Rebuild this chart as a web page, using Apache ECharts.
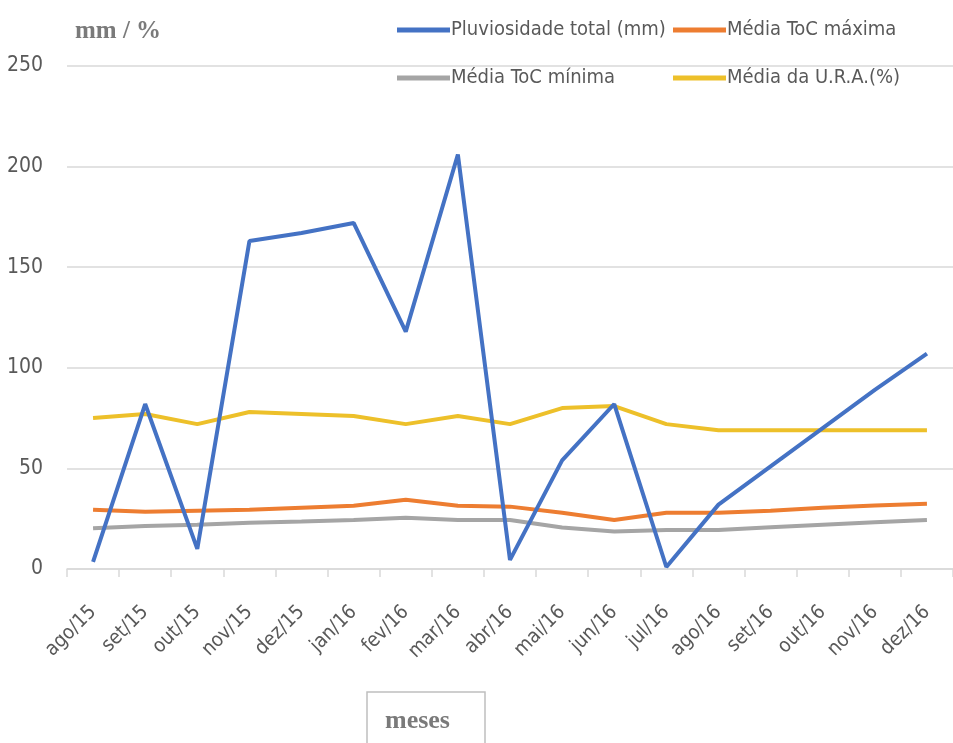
<!DOCTYPE html>
<html>
<head>
<meta charset="utf-8">
<script src="https://cdn.jsdelivr.net/npm/echarts@6/dist/echarts.min.js"></script>
<style>
  html, body { margin: 0; padding: 0; background: #ffffff; }
  #chart { width: 953px; height: 743px; }
</style>
</head>
<body>
<div id="chart"></div>
<script>
// Meses (agosto 2015 a dezembro 2016)
const months = ['ago/15', 'set/15', 'out/15', 'nov/15', 'dez/15', 'jan/16', 'fev/16', 'mar/16', 'abr/16',
                'mai/16', 'jun/16', 'jul/16', 'ago/16', 'set/16', 'out/16', 'nov/16', 'dez/16'];

// Pluviosidade total mensal (mm)
const rainfall = [3.5, 82, 10, 163, 167, 172, 118, 206, 4.5, 54, 82, 1, 32, 51, 70, 89, 107];
// Média da temperatura máxima (°C)
const tempMax = [29.4, 28.5, 29, 29.5, 30.5, 31.4, 34.4, 31.4, 31, 28, 24.4, 28, 28, 29, 30.5, 31.5, 32.4];
// Média da temperatura mínima (°C)
const tempMin = [20.3, 21.4, 22, 23, 23.6, 24.4, 25.5, 24.4, 24.4, 20.6, 18.6, 19.4, 19.4, 20.7, 22, 23.2, 24.4];
// Média da humidade relativa do ar (%)
const humidity = [75, 77, 72, 78, 77, 76, 72, 76, 72, 80, 81, 72, 69, 69, 69, 69, 69];

const yTicks = { min: 0, max: 250, interval: 50 };

const seriesNames = ['Pluviosidade total (mm)', 'Média ToC máxima', 'Média ToC mínima', 'Média da U.R.A.(%)'];
const seriesColors = ['#4472C4', '#ED7D31', '#A5A5A5', '#EDC02A'];
const seriesData = [rainfall, tempMax, tempMin, humidity];

const labelFont = "'Liberation Sans Narrow', 'DejaVu Sans Condensed', 'Arial Narrow', sans-serif";
const serifFont = "'Liberation Serif', 'DejaVu Serif', serif";

const chart = echarts.init(document.getElementById('chart'), null, { renderer: 'canvas' });

function legendAt(name, left, top) {
  return {
    data: [name],
    left: left,
    top: top,
    icon: 'rect',
    itemWidth: 53,
    itemHeight: 5,
    itemGap: 0,
    padding: 0,
    selectedMode: false,
    textStyle: { fontFamily: labelFont, fontSize: 20, color: '#595959', padding: [0, 0, 0, -4] }
  };
}

chart.setOption({
  animation: false,
  backgroundColor: '#ffffff',
  color: seriesColors,
  title: {
    text: 'mm / %',
    left: 70,
    top: 14,
    textStyle: { fontFamily: serifFont, fontSize: 25, fontWeight: 'bold', color: '#7a7a7a' }
  },
  legend: [
    legendAt(seriesNames[0], 397, 20),
    legendAt(seriesNames[1], 673, 20),
    legendAt(seriesNames[2], 397, 68),
    legendAt(seriesNames[3], 673, 68)
  ],
  grid: { left: 67, top: 66, width: 894, height: 503, containLabel: false },
  xAxis: {
    type: 'category',
    data: months,
    boundaryGap: true,
    axisLine: { lineStyle: { color: '#d9d9d9', width: 1.5 } },
    axisTick: { show: true, length: 8, lineStyle: { color: '#d9d9d9', width: 1.5 } },
    axisLabel: {
      rotate: 45,
      margin: 40,
      interval: 0,
      fontFamily: labelFont,
      fontSize: 20,
      color: '#595959'
    }
  },
  yAxis: {
    type: 'value',
    min: yTicks.min,
    max: yTicks.max,
    interval: yTicks.interval,
    axisLine: { show: false },
    axisTick: { show: false },
    splitLine: { lineStyle: { color: '#d9d9d9', width: 1.5 } },
    axisLabel: { margin: 24, fontFamily: labelFont, fontSize: 21, color: '#595959' }
  },
  graphic: [
    {
      type: 'rect',
      shape: { x: 367, y: 692, width: 118, height: 80 },
      style: { fill: '#ffffff', stroke: '#bfbfbf', lineWidth: 1.5 }
    },
    {
      type: 'text',
      left: 385,
      top: 708,
      style: { text: 'meses', font: "bold 26px " + serifFont, fill: '#7a7a7a' }
    }
  ],
  series: seriesNames.map((name, i) => ({
    name: name,
    type: 'line',
    data: seriesData[i],
    symbol: 'none',
    lineStyle: { width: 4, color: seriesColors[i] },
    z: i === 0 ? 5 : 3
  }))
});
</script>
</body>
</html>
